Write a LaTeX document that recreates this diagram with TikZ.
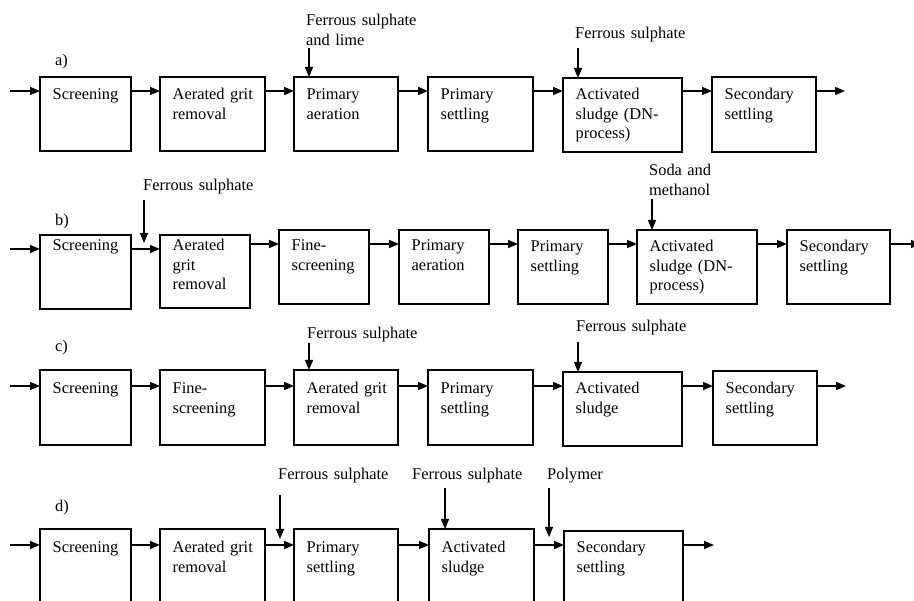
\documentclass[tikz,border=0pt]{standalone}
\usepackage{fontspec}
\setmainfont{Liberation Serif}
\usetikzlibrary{arrows.meta}
\tikzset{
  procbox/.style={draw=black, line width=1.1pt, rectangle, inner sep=0pt, outer sep=0pt},
  boxtext/.style={inner sep=0pt, anchor=base west, text width=140pt, align=left, font=\fontsize{16.4}{19.5}\selectfont},
  chem/.style={inner sep=0pt, anchor=base west, text width=160pt, align=left, font=\fontsize{16.4}{19.5}\selectfont},
  rowlabel/.style={inner sep=0pt, anchor=base west, font=\fontsize{16.4}{19.5}\selectfont},
  flow/.style={line width=1.4pt, -{Triangle[length=10pt,width=8pt]}},
  feed/.style={line width=1.2pt, -{Triangle[length=10pt,width=8pt]}},
}
% #1 name, #2 x1, #3 y1, #4 x2, #5 y2, #6 baseline, #7 text
\newcommand\pbox[7]{%
  \node[procbox, minimum width={#4-#2}, minimum height={#5-#3}] (#1) at ({(#2+#4)/2},{(#3+#5)/2}) {};
  \node[boxtext] (#1t) at ({#2+12.5},#6) {#7};
}
\begin{document}
\begin{tikzpicture}[x=1pt,y=-1pt]
\useasboundingbox (0,0) rectangle (914,601);
\clip (0,0) rectangle (914,601);

% ---------------- a) ----------------
\node[rowlabel] (la) at (55,66) {a)};
\pbox{a1}{40}{77}{131}{151}{100}{Screening}
\pbox{a2}{160}{77}{265}{151}{100}{Aerated grit\\removal}
\pbox{a3}{294}{77}{398}{151}{100}{Primary\\aeration}
\pbox{a4}{428}{77}{533}{151}{100}{Primary\\settling}
\pbox{a5}{563}{78}{682}{152}{100}{Activated\\sludge (DN-\\process)}
\pbox{a6}{712}{77}{816}{152}{100}{Secondary\\settling}
\coordinate (ra) at (0,91);
\coordinate (ina) at (10,91);
\coordinate (outa) at (845,91);
\draw[flow] (ina) -- (a1.west |- ra);
\foreach \p/\q in {a1/a2,a2/a3,a3/a4,a4/a5,a5/a6}
  \draw[flow] (\p.east |- ra) -- (\q.west |- ra);
\draw[flow] (a6.east |- ra) -- (outa);
\node[chem] (ca1) at (306,26) {Ferrous sulphate\\and lime};
\node[chem] (ca2) at (575,39) {Ferrous sulphate};
\coordinate (ka1) at (309,48);
\coordinate (ka2) at (578,48);
\draw[feed] (ka1) -- (ka1 |- a3.north);
\draw[feed] (ka2) -- (ka2 |- a5.north);

% ---------------- b) ----------------
\node[rowlabel] (lb) at (55,226) {b)};
\pbox{b1}{40}{235}{131}{309}{251}{Screening}
\pbox{b2}{160}{235}{250}{308}{251}{Aerated\\grit\\removal}
\pbox{b3}{279}{230}{369}{304}{251}{Fine-\\screening}
\pbox{b4}{399}{230}{489}{304}{251}{Primary\\aeration}
\pbox{b5}{518}{230}{608}{304}{252}{Primary\\settling}
\pbox{b6}{637}{230}{757}{304}{252}{Activated\\sludge (DN-\\process)}
\pbox{b7}{787}{230}{890}{304}{252}{Secondary\\settling}
\coordinate (rb1) at (0,249);
\coordinate (rb2) at (0,244);
\coordinate (inb) at (10,249);
\coordinate (outb) at (921,244);
\draw[flow] (inb) -- (b1.west |- rb1);
\draw[flow] (b1.east |- rb1) -- (b2.west |- rb1);
\foreach \p/\q in {b2/b3,b3/b4,b4/b5,b5/b6,b6/b7}
  \draw[flow] (\p.east |- rb2) -- (\q.west |- rb2);
\draw[flow] (b7.east |- rb2) -- (outb);
\node[chem] (cb1) at (143,191) {Ferrous sulphate};
\node[chem] (cb2) at (649,176) {Soda and\\methanol};
\coordinate (kb1s) at (144,200);
\coordinate (kb1e) at (144,243);
\coordinate (kb2) at (652,199);
\draw[feed] (kb1s) -- (kb1e);
\draw[feed] (kb2) -- (kb2 |- b6.north);

% ---------------- c) ----------------
\node[rowlabel] (lc) at (55,352) {c)};
\pbox{c1}{40}{370}{131}{445}{394}{Screening}
\pbox{c2}{160}{370}{265}{445}{394}{Fine-\\screening}
\pbox{c3}{294}{370}{398}{445}{394}{Aerated grit\\removal}
\pbox{c4}{428}{370}{533}{445}{394}{Primary\\settling}
\pbox{c5}{563}{372}{682}{446}{394}{Activated\\sludge}
\pbox{c6}{713}{371}{817}{445}{394}{Secondary\\settling}
\coordinate (rc) at (0,386);
\coordinate (inc) at (10,386);
\coordinate (outc) at (846,386);
\draw[flow] (inc) -- (c1.west |- rc);
\foreach \p/\q in {c1/c2,c2/c3,c3/c4,c4/c5,c5/c6}
  \draw[flow] (\p.east |- rc) -- (\q.west |- rc);
\draw[flow] (c6.east |- rc) -- (outc);
\node[chem] (cc1) at (307,339) {Ferrous sulphate};
\node[chem] (cc2) at (576,332) {Ferrous sulphate};
\coordinate (kc1) at (309,343);
\coordinate (kc2) at (578,342);
\draw[feed] (kc1) -- (kc1 |- c3.north);
\draw[feed] (kc2) -- (kc2 |- c5.north);

% ---------------- d) ----------------
\node[rowlabel] (ld) at (55,512) {d)};
\pbox{d1}{40}{529}{131}{610}{553}{Screening}
\pbox{d2}{160}{529}{265}{610}{553}{Aerated grit\\removal}
\pbox{d3}{294}{529}{398}{610}{553}{Primary\\settling}
\pbox{d4}{429}{529}{534}{610}{553}{Activated\\sludge}
\pbox{d5}{564}{531}{683}{610}{553}{Secondary\\settling}
\coordinate (rd) at (0,545);
\coordinate (ind) at (10,545);
\coordinate (outd) at (714,545);
\draw[flow] (ind) -- (d1.west |- rd);
\foreach \p/\q in {d1/d2,d2/d3,d3/d4,d4/d5}
  \draw[flow] (\p.east |- rd) -- (\q.west |- rd);
\draw[flow] (d5.east |- rd) -- (outd);
\node[chem] (cd1) at (278,480) {Ferrous sulphate};
\node[chem] (cd2) at (412,480) {Ferrous sulphate};
\node[chem] (cd3) at (547,480) {Polymer};
\coordinate (kd1s) at (280,495);
\coordinate (kd1e) at (280,539);
\coordinate (kd2) at (445,488);
\coordinate (kd3s) at (549,488);
\coordinate (kd3e) at (549,537);
\draw[feed] (kd1s) -- (kd1e);
\draw[feed] (kd2) -- (kd2 |- d4.north);
\draw[feed] (kd3s) -- (kd3e);
\end{tikzpicture}
\end{document}
